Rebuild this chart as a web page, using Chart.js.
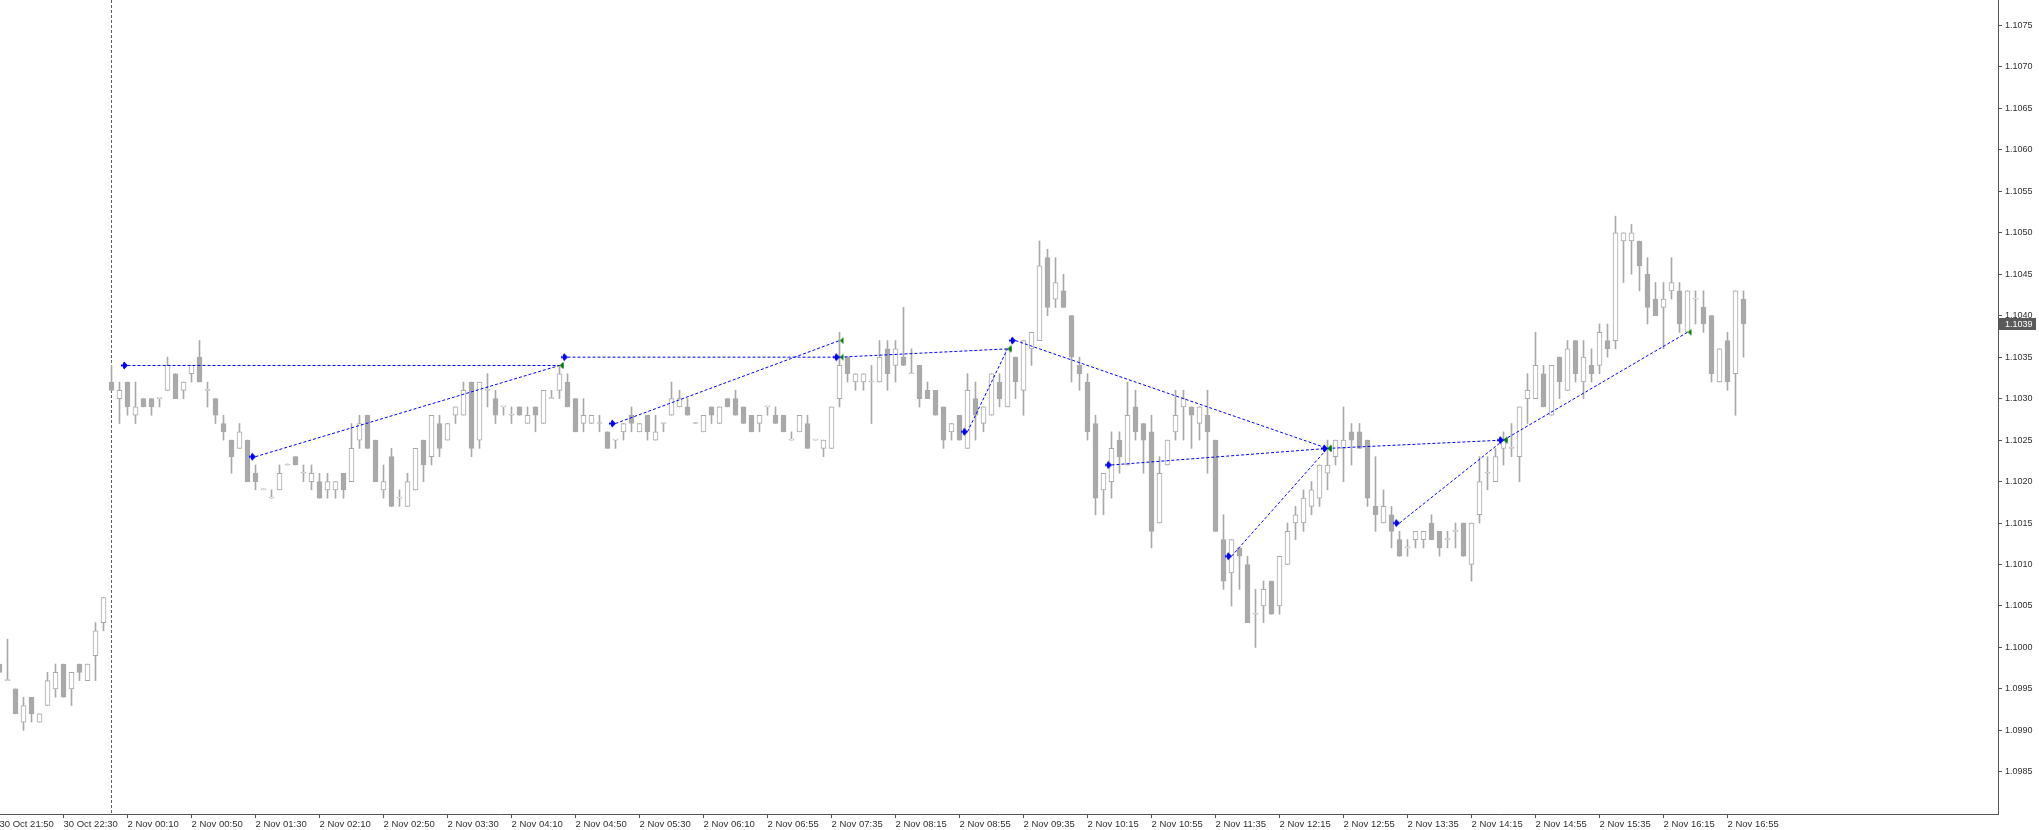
<!DOCTYPE html>
<html>
<head>
<meta charset="utf-8">
<title>EURUSD M5</title>
<script src="https://cdn.jsdelivr.net/npm/chart.js@4.4.1/dist/chart.umd.min.js"></script>
<style>
  html, body { margin: 0; padding: 0; background: #ffffff; }
  #chart { display: block; }
</style>
</head>
<body>
<canvas id="chart" width="2039" height="830"></canvas>
<script>
// Свечи M5 (O/H/L/C), бар 0 = 30 Oct 21:50
const opens = [
  1.0998,1.0996,1.0995,1.0991,1.0994,1.0991,1.0993,1.0995,1.0998,1.0995,
  1.0998,1.0996,1.0999,1.1003,1.1032,1.1030,1.1032,1.1028,1.1030,1.1030,
  1.1030,1.1031,1.1033,1.1031,1.1033,1.1035,1.1031,1.1030,1.1027,1.1025,
  1.1024,1.1025,1.1021,1.1019,1.1018,1.1019,1.1022,1.1023,1.1021,1.1020,
  1.1020,1.1019,1.1019,1.1021,1.1020,1.1025,1.1028,1.1025,1.1019,1.1023,
  1.1018,1.1017,1.1019,1.1025,1.1023,1.1027,1.1025,1.1028,1.1028,1.1032,
  1.1025,1.1031,1.1030,1.1029,1.1028,1.1029,1.1027,1.1029,1.1027,1.1030,
  1.1031,1.1032,1.1030,1.1027,1.1027,1.1027,1.1026,1.1025,1.1026,1.1028,
  1.1026,1.1028,1.1025,1.1027,1.1028,1.1029,1.1029,1.1027,1.1026,1.1029,
  1.1027,1.1030,1.1030,1.1029,1.1028,1.1027,1.1029,1.1028,1.1028,1.1025,
  1.1026,1.1027,1.1025,1.1024,1.1024,1.1030,1.1035,1.1032,1.1032,1.1032,
  1.1032,1.1036,1.1034,1.1035,1.1033,1.1034,1.1031,1.1031,1.1029,1.1026,
  1.1028,1.1024,1.1030,1.1027,1.1028,1.1032,1.1029,1.1035,1.1031,1.1036,
  1.1037,1.1047,1.1042,1.1043,1.1040,1.1034,1.1032,1.1027,1.1019,1.1020,
  1.1025,1.1022,1.1029,1.1027,1.1026,1.1015,1.1022,1.1026,1.1029,1.1029,
  1.1027,1.1028,1.1025,1.1013,1.1009,1.1012,1.1010,1.1004,1.1005,1.1008,
  1.1005,1.1010,1.1015,1.1015,1.1017,1.1018,1.1021,1.1023,1.1024,1.1026,
  1.1026,1.1025,1.1017,1.1015,1.1016,1.1013,1.1012,1.1013,1.1013,1.1015,
  1.1014,1.1013,1.1014,1.1015,1.1010,1.1016,1.1021,1.1020,1.1024,1.1024,
  1.1023,1.1030,1.1030,1.1033,1.1028,1.1035,1.1031,1.1037,1.1032,1.1034,
  1.1034,1.1037,1.1037,1.1049,1.1049,1.1049,1.1045,1.1042,1.1041,1.1043,
  1.1043,1.1038,1.1042,1.1041,1.1040,1.1032,1.1037,1.1033,1.1042
];
const highs = [
  1.0998,1.1001,1.0995,1.0994,1.0994,1.0992,1.0997,1.0998,1.0998,1.0997,
  1.0998,1.0998,1.1003,1.1006,1.1034,1.1032,1.1032,1.1032,1.1030,1.1030,
  1.1030,1.1035,1.1033,1.1032,1.1034,1.1037,1.1032,1.1030,1.1028,1.1025,
  1.1027,1.1025,1.1022,1.1019,1.1019,1.1022,1.1022,1.1023,1.1022,1.1022,
  1.1021,1.1021,1.1020,1.1021,1.1027,1.1028,1.1028,1.1025,1.1022,1.1024,
  1.1019,1.1021,1.1024,1.1025,1.1028,1.1028,1.1027,1.1029,1.1032,1.1032,
  1.1032,1.1033,1.1031,1.1029,1.1029,1.1029,1.1029,1.1029,1.1031,1.1031,
  1.1034,1.1033,1.1030,1.1030,1.1028,1.1028,1.1026,1.1025,1.1027,1.1029,
  1.1027,1.1028,1.1028,1.1027,1.1032,1.1031,1.1030,1.1027,1.1028,1.1029,
  1.1029,1.1030,1.1031,1.1029,1.1028,1.1028,1.1029,1.1029,1.1028,1.1026,
  1.1028,1.1028,1.1025,1.1025,1.1029,1.1038,1.1035,1.1033,1.1033,1.1034,
  1.1037,1.1037,1.1037,1.1041,1.1036,1.1034,1.1032,1.1031,1.1029,1.1027,
  1.1028,1.1033,1.1032,1.1029,1.1033,1.1033,1.1036,1.1035,1.1037,1.1038,
  1.1049,1.1048,1.1047,1.1045,1.1040,1.1035,1.1033,1.1028,1.1021,1.1026,
  1.1026,1.1032,1.1031,1.1027,1.1028,1.1023,1.1025,1.1031,1.1031,1.1029,
  1.1029,1.1031,1.1025,1.1016,1.1013,1.1012,1.1011,1.1007,1.1008,1.1008,
  1.1011,1.1015,1.1017,1.1019,1.1020,1.1022,1.1025,1.1025,1.1029,1.1027,
  1.1027,1.1025,1.1023,1.1019,1.1017,1.1014,1.1013,1.1014,1.1014,1.1016,
  1.1014,1.1014,1.1015,1.1015,1.1015,1.1023,1.1023,1.1024,1.1026,1.1027,
  1.1029,1.1033,1.1038,1.1034,1.1034,1.1035,1.1037,1.1037,1.1037,1.1036,
  1.1039,1.1039,1.1052,1.1050,1.1051,1.1049,1.1047,1.1044,1.1044,1.1047,
  1.1044,1.1043,1.1043,1.1043,1.1040,1.1036,1.1038,1.1043,1.1043
];
const lows = [
  1.0997,1.0996,1.0992,1.0990,1.0991,1.0991,1.0993,1.0994,1.0994,1.0993,
  1.0996,1.0996,1.0996,1.1002,1.1031,1.1027,1.1028,1.1027,1.1029,1.1028,
  1.1029,1.1031,1.1030,1.1030,1.1032,1.1032,1.1029,1.1027,1.1025,1.1021,
  1.1024,1.1020,1.1019,1.1019,1.1018,1.1019,1.1022,1.1022,1.1020,1.1019,
  1.1018,1.1018,1.1018,1.1018,1.1020,1.1024,1.1024,1.1020,1.1018,1.1017,
  1.1017,1.1017,1.1019,1.1020,1.1022,1.1023,1.1025,1.1027,1.1028,1.1023,
  1.1024,1.1029,1.1027,1.1028,1.1027,1.1028,1.1027,1.1026,1.1027,1.1030,
  1.1030,1.1029,1.1026,1.1026,1.1027,1.1026,1.1024,1.1024,1.1025,1.1026,
  1.1026,1.1025,1.1025,1.1026,1.1028,1.1029,1.1028,1.1027,1.1026,1.1027,
  1.1027,1.1029,1.1028,1.1027,1.1026,1.1026,1.1028,1.1027,1.1026,1.1025,
  1.1026,1.1024,1.1025,1.1023,1.1024,1.1029,1.1032,1.1031,1.1031,1.1027,
  1.1032,1.1031,1.1032,1.1034,1.1033,1.1029,1.1030,1.1028,1.1024,1.1025,
  1.1025,1.1024,1.1025,1.1026,1.1028,1.1029,1.1029,1.1030,1.1028,1.1034,
  1.1037,1.1040,1.1041,1.1041,1.1032,1.1031,1.1025,1.1016,1.1016,1.1018,
  1.1021,1.1022,1.1025,1.1021,1.1012,1.1015,1.1022,1.1025,1.1025,1.1024,
  1.1025,1.1021,1.1014,1.1007,1.1005,1.1007,1.1003,1.1000,1.1003,1.1004,
  1.1004,1.1010,1.1013,1.1014,1.1016,1.1017,1.1019,1.1022,1.1020,1.1022,
  1.1024,1.1017,1.1014,1.1015,1.1012,1.1011,1.1011,1.1012,1.1012,1.1013,
  1.1011,1.1012,1.1012,1.1011,1.1008,1.1015,1.1019,1.1020,1.1022,1.1023,
  1.1020,1.1027,1.1030,1.1029,1.1028,1.1030,1.1031,1.1032,1.1030,1.1032,
  1.1033,1.1035,1.1036,1.1044,1.1045,1.1043,1.1039,1.1040,1.1036,1.1042,
  1.1038,1.1038,1.1039,1.1038,1.1032,1.1032,1.1031,1.1028,1.1035
];
const closes = [
  1.0997,1.0996,1.0992,1.0993,1.0992,1.0992,1.0996,1.0997,1.0994,1.0997,
  1.0997,1.0998,1.1002,1.1006,1.1031,1.1031,1.1029,1.1029,1.1029,1.1029,
  1.1030,1.1034,1.1030,1.1032,1.1034,1.1032,1.1031,1.1028,1.1026,1.1023,
  1.1026,1.1020,1.1020,1.1019,1.1018,1.1021,1.1022,1.1022,1.1021,1.1021,
  1.1018,1.1020,1.1020,1.1019,1.1024,1.1027,1.1024,1.1020,1.1020,1.1017,
  1.1018,1.1020,1.1024,1.1022,1.1028,1.1024,1.1027,1.1029,1.1031,1.1024,
  1.1032,1.1031,1.1028,1.1029,1.1028,1.1028,1.1028,1.1028,1.1031,1.1030,
  1.1033,1.1029,1.1026,1.1028,1.1028,1.1027,1.1024,1.1025,1.1027,1.1027,
  1.1027,1.1026,1.1026,1.1027,1.1030,1.1030,1.1028,1.1027,1.1028,1.1028,
  1.1029,1.1029,1.1028,1.1027,1.1026,1.1028,1.1029,1.1027,1.1026,1.1025,
  1.1028,1.1024,1.1025,1.1025,1.1029,1.1034,1.1033,1.1033,1.1033,1.1032,
  1.1035,1.1033,1.1036,1.1034,1.1033,1.1030,1.1030,1.1028,1.1025,1.1027,
  1.1025,1.1031,1.1028,1.1029,1.1033,1.1030,1.1036,1.1032,1.1037,1.1038,
  1.1046,1.1041,1.1044,1.1041,1.1035,1.1033,1.1026,1.1018,1.1021,1.1024,
  1.1023,1.1028,1.1026,1.1025,1.1014,1.1021,1.1025,1.1028,1.1030,1.1028,
  1.1029,1.1026,1.1014,1.1008,1.1013,1.1011,1.1003,1.1004,1.1007,1.1004,
  1.1011,1.1014,1.1016,1.1018,1.1019,1.1022,1.1022,1.1025,1.1025,1.1025,
  1.1024,1.1018,1.1016,1.1017,1.1014,1.1011,1.1012,1.1014,1.1014,1.1013,
  1.1012,1.1013,1.1014,1.1011,1.1015,1.1020,1.1021,1.1023,1.1025,1.1024,
  1.1029,1.1031,1.1034,1.1029,1.1034,1.1032,1.1036,1.1033,1.1035,1.1033,
  1.1038,1.1036,1.1050,1.1050,1.1050,1.1046,1.1041,1.1040,1.1042,1.1044,
  1.1039,1.1043,1.1042,1.1039,1.1033,1.1036,1.1032,1.1043,1.1039
];

// Подписи времени, каждые 8 баров
const timeLabels = [
  "30 Oct 21:50", "30 Oct 22:30", "2 Nov 00:10", "2 Nov 00:50", "2 Nov 01:30",
  "2 Nov 02:10", "2 Nov 02:50", "2 Nov 03:30", "2 Nov 04:10", "2 Nov 04:50",
  "2 Nov 05:30", "2 Nov 06:10", "2 Nov 06:55", "2 Nov 07:35", "2 Nov 08:15",
  "2 Nov 08:55", "2 Nov 09:35", "2 Nov 10:15", "2 Nov 10:55", "2 Nov 11:35",
  "2 Nov 12:15", "2 Nov 12:55", "2 Nov 13:35", "2 Nov 14:15", "2 Nov 14:55",
  "2 Nov 15:35", "2 Nov 16:15", "2 Nov 16:55"
];
const barsPerLabel = 8;

// Шкала цен справа
const priceTicks = [
  1.0985, 1.0990, 1.0995, 1.1000, 1.1005, 1.1010, 1.1015, 1.1020, 1.1025, 1.1030,
  1.1035, 1.1040, 1.1045, 1.1050, 1.1055, 1.1060, 1.1065, 1.1070, 1.1075
];

// Сделки из истории: открытие -> закрытие
const tradeOpenBar    = [16, 32, 71, 77, 105, 121, 127, 139, 154, 166, 175, 188];
const tradeOpenPrice  = [1.1034, 1.1023, 1.1035, 1.1027, 1.1035, 1.1026, 1.1037, 1.1022, 1.1011, 1.1024, 1.1015, 1.1025];
const tradeCloseBar   = [70, 70, 105, 105, 126, 126, 166, 166, 166, 188, 188, 211];
const tradeClosePrice = [1.1034, 1.1034, 1.1035, 1.1037, 1.1036, 1.1036, 1.1024, 1.1024, 1.1024, 1.1025, 1.1025, 1.1038];

// Разделитель дней (2 Nov 00:00)
const separatorBar = 14;

const candleGray = "#a9a9a9";
const axisColor = "#555555";
const textColor = "#303030";
const fontFamily = "'Liberation Sans', Arial, sans-serif";

// Масштаб: 8 пикселей на бар, ширина области 1998
const barPixels = 8;
const plotWidth = 1998;
const xMin = 0.0625;
const xMax = xMin + plotWidth / barPixels;

// Маркеры сделок
function makeOpenArrow() {
    const c = document.createElement("canvas");
    c.width = 13; c.height = 9;
    const g = c.getContext("2d");
    g.fillStyle = "#0000ff";
    g.beginPath();
    g.moveTo(3, 0.5);
    g.lineTo(7, 4.5);
    g.lineTo(3, 8.5);
    g.closePath();
    g.fill();
    g.fillRect(0, 3.5, 4, 2);
    g.fillRect(2, 1.5, 2, 6);
    return c;
}
function makeCloseArrow() {
    const c = document.createElement("canvas");
    c.width = 10; c.height = 9;
    const g = c.getContext("2d");
    g.fillStyle = "#008000";
    g.beginPath();
    g.moveTo(5.5, 4.5);
    g.lineTo(9, 1);
    g.lineTo(9, 8);
    g.closePath();
    g.fill();
    return c;
}

// Данные для свечей
const wickData = [];
const bodyData = [];
const bodyColors = [];
for (let i = 0; i < opens.length; i++) {
    wickData.push({ x: i, y: [lows[i], highs[i]] });
    bodyData.push({ x: i, y: [opens[i], closes[i]] });
    bodyColors.push(closes[i] < opens[i] ? candleGray : "#ffffff");
}

const datasets = [
    {
        type: "bar",
        data: wickData,
        backgroundColor: candleGray,
        borderWidth: 0,
        barThickness: 1,
        maxBarThickness: 1,
        minBarLength: 1,
        grouped: false,
        order: 3
    },
    {
        type: "bar",
        data: bodyData,
        backgroundColor: bodyColors,
        borderColor: candleGray,
        borderWidth: 1,
        borderSkipped: false,
        barThickness: 5,
        maxBarThickness: 5,
        minBarLength: 1,
        grouped: false,
        order: 2
    }
];

for (let i = 0; i < tradeOpenBar.length; i++) {
    datasets.push({
        type: "line",
        data: [
            { x: tradeOpenBar[i], y: tradeOpenPrice[i] },
            { x: tradeCloseBar[i], y: tradeClosePrice[i] }
        ],
        borderColor: "#0000ff",
        borderWidth: 1,
        borderDash: [3, 2],
        pointRadius: 0,
        fill: false,
        order: 1
    });
}

const openPoints = tradeOpenBar.map((b, i) => ({ x: b, y: tradeOpenPrice[i] }));
const closePoints = tradeCloseBar.map((b, i) => ({ x: b, y: tradeClosePrice[i] }));

datasets.push({
    type: "line",
    data: closePoints,
    showLine: false,
    pointStyle: makeCloseArrow(),
    pointRadius: 4,
    order: 0
});
datasets.push({
    type: "line",
    data: openPoints,
    showLine: false,
    pointStyle: makeOpenArrow(),
    pointRadius: 4,
    order: 0
});

// Разделитель периодов
const separatorPlugin = {
    id: "separator",
    beforeDatasetsDraw(chart) {
        const ctx = chart.ctx;
        const area = chart.chartArea;
        const x = Math.round(chart.scales.x.getPixelForValue(separatorBar)) - 0.5;
        ctx.save();
        ctx.strokeStyle = "#606060";
        ctx.lineWidth = 1;
        ctx.setLineDash([3, 2]);
        ctx.beginPath();
        ctx.moveTo(x, area.top);
        ctx.lineTo(x, area.bottom);
        ctx.stroke();
        ctx.restore();
    }
};

// Метка текущей цены
const lastPricePlugin = {
    id: "lastPrice",
    afterDraw(chart) {
        const ctx = chart.ctx;
        const area = chart.chartArea;
        const price = closes[closes.length - 1];
        const y = Math.round(chart.scales.y.getPixelForValue(price));
        ctx.save();
        ctx.fillStyle = "#5a5a5a";
        ctx.fillRect(area.right + 1, y - 6, 37, 12);
        ctx.fillStyle = "#ffffff";
        ctx.font = "9px " + fontFamily;
        ctx.textBaseline = "middle";
        ctx.textAlign = "left";
        ctx.fillText(price.toFixed(4), area.right + 7, y + 0.5);
        ctx.restore();
    }
};

const yPixelsPerUnit = 82940;
const yTopValue = 1.1075 + 25.4 / yPixelsPerUnit;
const yBottomValue = yTopValue - 814 / yPixelsPerUnit;

new Chart(document.getElementById("chart"), {
    type: "bar",
    data: { datasets },
    plugins: [separatorPlugin, lastPricePlugin],
    options: {
        responsive: false,
        animation: false,
        events: [],
        layout: { padding: 0, autoPadding: false },
        plugins: {
            legend: { display: false },
            tooltip: { enabled: false }
        },
        scales: {
            x: {
                type: "linear",
                position: "bottom",
                min: xMin,
                max: xMax,
                offset: false,
                bounds: "data",
                afterBuildTicks: (axis) => {
                    axis.ticks = timeLabels.map((_, k) => ({ value: k * barsPerLabel }));
                },
                afterFit: (axis) => {
                    axis.height = 16;
                    axis.paddingLeft = 0;
                    axis.paddingRight = 0;
                },
                ticks: {
                    autoSkip: false,
                    maxRotation: 0,
                    minRotation: 0,
                    align: "start",
                    padding: 1,
                    color: textColor,
                    font: { family: fontFamily, size: 9.5 },
                    callback: (value, index) => timeLabels[index]
                },
                grid: {
                    offset: false,
                    drawOnChartArea: false,
                    drawTicks: true,
                    tickLength: 4,
                    color: axisColor
                },
                border: { display: true, color: axisColor, width: 1 }
            },
            y: {
                type: "linear",
                position: "right",
                min: yBottomValue,
                max: yTopValue,
                beginAtZero: false,
                bounds: "data",
                afterBuildTicks: (axis) => {
                    axis.ticks = priceTicks.map(v => ({ value: v }));
                },
                afterFit: (axis) => {
                    axis.width = 41;
                    axis.paddingTop = 0;
                    axis.paddingBottom = 0;
                },
                ticks: {
                    padding: 3,
                    color: textColor,
                    font: { family: fontFamily, size: 9 },
                    callback: (value) => Number(value).toFixed(4)
                },
                grid: {
                    drawOnChartArea: false,
                    drawTicks: true,
                    tickLength: 4,
                    color: axisColor
                },
                border: { display: true, color: axisColor, width: 1 }
            }
        }
    }
});
</script>
</body>
</html>
